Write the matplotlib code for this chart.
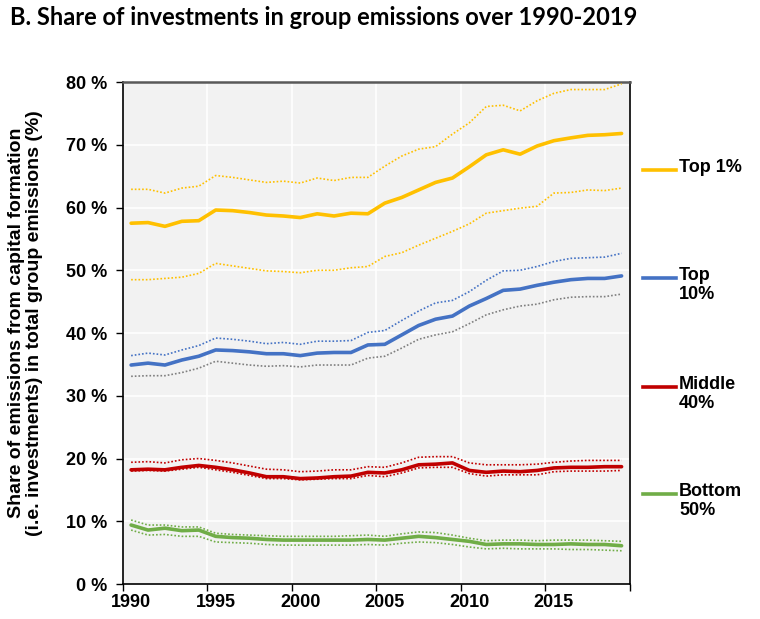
import matplotlib
matplotlib.use('Agg')
import matplotlib.pyplot as plt
from matplotlib.lines import Line2D
from matplotlib import rcParams

rcParams['font.family'] = 'sans-serif'
rcParams['font.sans-serif'] = ['Liberation Sans', 'DejaVu Sans']

# ---- Daten (Anteil in %) ----
years = list(range(1990, 2020))

top1 = [57.5, 57.6, 57.0, 57.8, 57.9, 59.6, 59.5, 59.2, 58.8, 58.65,
        58.4, 59.0, 58.65, 59.1, 59.0, 60.7, 61.6, 62.8, 64.0, 64.7,
        66.5, 68.4, 69.2, 68.5, 69.8, 70.65, 71.1, 71.5, 71.6, 71.8]
top1_hi = [62.9, 62.9, 62.3, 63.1, 63.4, 65.1, 64.8, 64.4, 64.0, 64.2,
           63.9, 64.7, 64.3, 64.8, 64.8, 66.6, 68.2, 69.3, 69.7, 71.7,
           73.5, 76.1, 76.3, 75.4, 77.0, 78.2, 78.8, 78.8, 78.8, 79.7]
top1_lo = [48.5, 48.5, 48.7, 48.9, 49.5, 51.1, 50.7, 50.3, 49.9, 49.8,
           49.6, 50.0, 50.0, 50.4, 50.6, 52.2, 52.8, 54.0, 55.1, 56.2,
           57.4, 59.1, 59.5, 59.9, 60.2, 62.3, 62.4, 62.8, 62.7, 63.1]

top10 = [34.9, 35.2, 34.9, 35.7, 36.3, 37.3, 37.2, 37.0, 36.7, 36.7,
         36.4, 36.8, 36.9, 36.9, 38.1, 38.2, 39.7, 41.2, 42.2, 42.7,
         44.3, 45.5, 46.8, 47.0, 47.6, 48.1, 48.5, 48.7, 48.7, 49.1]
top10_hi = [36.4, 36.8, 36.5, 37.3, 38.0, 39.2, 39.0, 38.7, 38.3, 38.5,
            38.2, 38.7, 38.7, 38.8, 40.1, 40.4, 42.0, 43.5, 44.8, 45.2,
            46.6, 48.4, 49.9, 50.0, 50.6, 51.4, 51.9, 52.0, 52.1, 52.7]
top10_lo = [33.1, 33.2, 33.2, 33.7, 34.4, 35.5, 35.2, 34.9, 34.7, 34.8,
            34.6, 34.9, 34.9, 34.9, 36.0, 36.3, 37.6, 39.0, 39.7, 40.2,
            41.5, 42.9, 43.7, 44.3, 44.6, 45.3, 45.7, 45.8, 45.8, 46.2]

mid40 = [18.2, 18.3, 18.2, 18.6, 18.9, 18.6, 18.2, 17.7, 17.1, 17.1,
         16.8, 16.9, 17.1, 17.2, 17.8, 17.7, 18.2, 19.0, 19.1, 19.3,
         18.1, 17.8, 18.0, 17.9, 18.1, 18.5, 18.6, 18.6, 18.7, 18.7]
mid40_hi = [19.4, 19.5, 19.3, 19.8, 20.0, 19.7, 19.3, 18.8, 18.3, 18.2,
            17.9, 18.0, 18.2, 18.2, 18.7, 18.6, 19.3, 20.2, 20.3, 20.3,
            19.3, 19.0, 19.0, 19.0, 19.1, 19.4, 19.6, 19.7, 19.7, 19.7]
mid40_lo = [18.0, 18.1, 18.0, 18.3, 18.6, 18.2, 17.8, 17.3, 16.8, 16.8,
            16.6, 16.7, 16.8, 16.8, 17.3, 17.1, 17.7, 18.5, 18.6, 18.6,
            17.6, 17.2, 17.4, 17.4, 17.4, 17.9, 18.0, 18.0, 18.0, 18.1]

bot50 = [9.4, 8.6, 8.9, 8.5, 8.6, 7.6, 7.4, 7.3, 7.1, 7.0,
         7.0, 7.0, 7.0, 7.0, 7.1, 7.0, 7.3, 7.6, 7.4, 7.1,
         6.8, 6.3, 6.4, 6.4, 6.3, 6.3, 6.4, 6.3, 6.3, 6.1]
bot50_hi = [10.2, 9.4, 9.4, 9.1, 9.1, 8.1, 7.9, 7.8, 7.7, 7.6,
            7.6, 7.6, 7.6, 7.7, 7.8, 7.6, 8.0, 8.3, 8.2, 7.8,
            7.3, 6.9, 7.0, 7.0, 6.9, 7.0, 7.0, 7.0, 6.9, 6.8]
bot50_lo = [8.6, 7.8, 7.9, 7.6, 7.6, 6.7, 6.6, 6.5, 6.3, 6.2,
            6.2, 6.2, 6.2, 6.2, 6.3, 6.2, 6.5, 6.7, 6.6, 6.3,
            5.9, 5.6, 5.7, 5.6, 5.6, 5.6, 5.5, 5.5, 5.4, 5.3]

group_labels = ['Top 1%', 'Top\n10%', 'Middle\n40%', 'Bottom\n50%']
y_ticks = [0, 10, 20, 30, 40, 50, 60, 70, 80]
x_ticks = [1990, 1995, 2000, 2005, 2010, 2015]

# ---- Farben ----
YELLOW = '#FFC000'
BLUE = '#4472C4'
RED = '#C00000'
GREEN = '#70AD47'
GREY = '#7F7F7F'

fig = plt.figure(figsize=(7.6, 6.19), dpi=100)
ax = fig.add_axes([0.1614, 0.0565, 0.8290 - 0.1614, 0.8675 - 0.0565])
ax.set_facecolor('#F2F2F2')

# Kategorienmitte wie in Excel
xs = [y + 0.5 for y in years]

MAIN_LW = 2.6
DOT_LW = 1.2
DOTS = (0, (1, 1.2))

series = [
    (top1, top1_hi, top1_lo, YELLOW, YELLOW, YELLOW),
    (top10, top10_hi, top10_lo, BLUE, BLUE, GREY),
    (mid40, mid40_hi, mid40_lo, RED, RED, RED),
    (bot50, bot50_hi, bot50_lo, GREEN, GREEN, GREEN),
]
for main, hi, lo, c, c_hi, c_lo in series:
    ax.plot(xs, hi, color=c_hi, lw=DOT_LW, linestyle=DOTS, zorder=3)
    ax.plot(xs, lo, color=c_lo, lw=DOT_LW, linestyle=DOTS, zorder=3)
    ax.plot(xs, main, color=c, lw=MAIN_LW, solid_capstyle='round', zorder=4)

ax.set_xlim(1990, 2020)
ax.set_ylim(0, 80)

# Gitter
for v in y_ticks[1:-1]:
    ax.axhline(v, color='white', lw=1.2, zorder=1)
for v in x_ticks[1:] + [2020]:
    ax.axvline(v, color='white', lw=1.2, zorder=1)

# Y-Achse
ax.set_yticks(y_ticks)
ax.set_yticklabels([f'{v} %' for v in y_ticks], fontsize=13, fontweight='bold')
ax.tick_params(axis='y', direction='out', length=5, width=1, pad=6)

# X-Achse: Striche an den Grenzen, Labels in Kategorienmitte
ax.set_xticks(x_ticks + [2020])
ax.set_xticklabels([])
ax.tick_params(axis='x', direction='out', length=5, width=1)
ax.set_xticks([x + 0.5 for x in x_ticks], minor=True)
ax.set_xticklabels([str(x) for x in x_ticks], minor=True, fontsize=13, fontweight='bold')
ax.tick_params(axis='x', which='minor', length=0, pad=7)

for side in ['left', 'right', 'bottom']:
    ax.spines[side].set_color('black')
    ax.spines[side].set_linewidth(1.2)
ax.spines['top'].set_color('#595959')
ax.spines['top'].set_linewidth(1.8)

ax.set_ylabel('Share of emissions from capital formation\n(i.e. investments) in total group emissions (%)',
              fontsize=14, fontweight='bold', linespacing=1.1)
ax.yaxis.set_label_coords(-0.157, 0.52)

fig.text(0.013, 0.971, 'B. Share of investments in group emissions over 1990-2019',
         fontsize=17, fontweight='bold', family='Lato', ha='left', va='center')

# Legende rechts
leg_y = [1 - 170 / 619, 1 - 278 / 619, 1 - 387 / 619, 1 - 494 / 619]
for yy, lab, c in zip(leg_y, group_labels, [YELLOW, BLUE, RED, GREEN]):
    fig.add_artist(Line2D([643 / 760, 676 / 760], [yy, yy], color=c, lw=2.6))
    fig.text(679 / 760, yy + 0.018, lab, fontsize=13, fontweight='bold',
             ha='left', va='top', linespacing=1.2)

fig.savefig('out.png', dpi=100)
